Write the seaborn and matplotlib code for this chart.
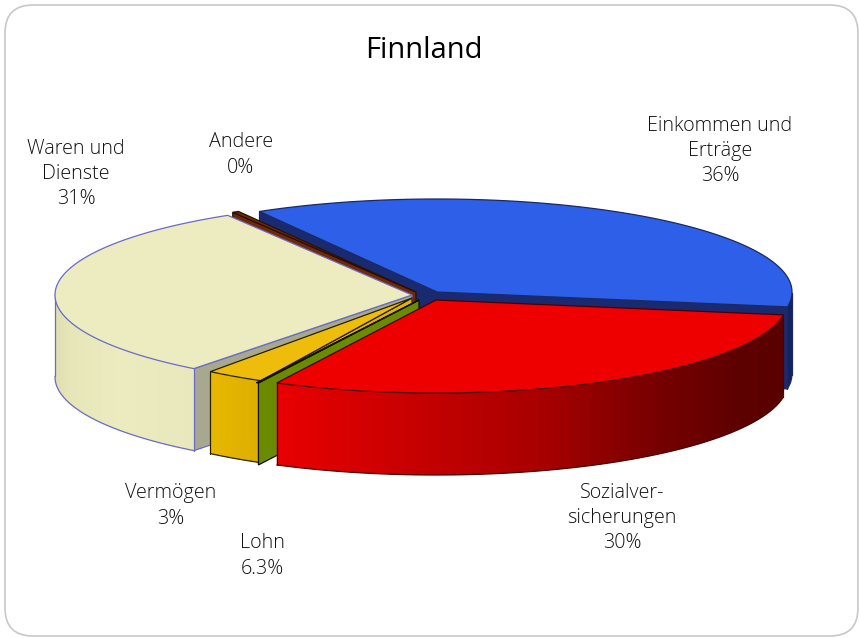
import numpy as np
import matplotlib
matplotlib.use("Agg")
import matplotlib.pyplot as plt
from matplotlib.patches import FancyBboxPatch
import seaborn as sns

# data (slices drawn clockwise from start_angle)
categories = ["Einkommen und\nErträge", "Sozialver-\nsicherungen", "Lohn", "Vermögen", "Waren und\nDienste", "Andere"]
values = [36, 30, 0.1, 2.9, 31, 0.3]
value_labels = ["36%", "30%", "6.3%", "3%", "31%", "0%"]

# look of the chart
top_colors = ["#2d5fe8", "#ee0000", "#6a8a00", "#eebd0c", "#ececc0", "#6e2a08"]
wall_colors = ["#1a2a70", "#b0b0b0", "#6a8a00", "#e2b400", "#a8a890", "#6e2a08"]
side_ramps = [["#14235f", "#14235f"],
              ["#e80000", "#c80000", "#a80000", "#760000", "#5c0000", "#5a0000"],
              ["#6a8a00", "#6a8a00"],
              ["#e8b800", "#dcae00"],
              ["#dcdcb0", "#e6e6b8", "#ecebc0", "#e8e8bc"],
              ["#6e2a08", "#6e2a08"]]
edge_colors = ["#1a2a60", "#4a0000", "#111100", "#2a2200", "#6a6ac8", "#2a1000"]
centers = [(437, 292), (436, 300), (419, 300), (412, 298), (412, 295), (416, 292)]
radius_x = [355, 352, 355, 330, 357, 355]
radius_y = 93
depth = 82
start_angle = 120
draw_order = [0, 5, 4, 3, 2, 1]
label_pos = [(720, 151), (622, 518), (262, 556), (171, 506), (76, 174), (241, 155)]

sns.set_theme(style="white")
plt.rcParams["font.family"] = ["Open Sans", "DejaVu Sans"]

fig = plt.figure(figsize=(8.59, 6.38), dpi=100)
ax = fig.add_axes([0, 0, 1, 1])
ax.set_xlim(0, 859)
ax.set_ylim(638, 0)
ax.axis("off")

ax.add_patch(FancyBboxPatch((5 + 28, 5 + 28), 853 - 56, 631 - 56, boxstyle="round,pad=28,rounding_size=28",
                            fc="white", ec="#c8c8c8", lw=1.2))

# slice limits in degrees
shares = np.array(values) / np.sum(values) * 360
ends = start_angle - np.cumsum(shares)
starts = ends + shares

z = [1]


def next_z():
    z[0] += 1
    return z[0]


def xy(i, t):
    t = np.radians(t)
    return centers[i][0] + radius_x[i] * np.cos(t), centers[i][1] - radius_y * np.sin(t)


def draw_slice(i):
    t0, t1 = starts[i], ends[i]
    cx, cy = centers[i]
    ec = edge_colors[i]
    # cut faces, only those whose normal points at the viewer show
    for t, normal in ((t0, t0 + 90), (t1, t1 - 90)):
        if np.sin(np.radians(normal)) < 0:
            x, y = xy(i, t)
            ax.fill([cx, x, x, cx], [cy, y, y + depth, cy + depth], fc=wall_colors[i], ec=ec, lw=0.9, zorder=next_z())
    # outer side, only the front half of the ellipse
    ts = np.linspace(t0, t1, 60)
    ts = ts[np.sin(np.radians(ts)) <= 0.02]
    if len(ts) > 1 and shares[i] > 2:
        x, y = xy(i, ts)
        ramp = sns.blend_palette(side_ramps[i], n_colors=len(ts))
        order = np.argsort(x)
        x, y = x[order], y[order]
        for k in range(len(x) - 1):
            j = min(k + 2, len(x) - 1)
            ax.fill([x[k], x[j], x[j], x[k]], [y[k], y[j], y[j] + depth, y[k] + depth],
                    fc=ramp[k], lw=0, zorder=next_z())
        ax.plot(x, y + depth, color=ec, lw=0.9, zorder=next_z())
        ax.plot([x[0], x[0]], [y[0], y[0] + depth], color=ec, lw=0.9, zorder=next_z())
        ax.plot([x[-1], x[-1]], [y[-1], y[-1] + depth], color=ec, lw=0.9, zorder=next_z())
    # top face
    ts = np.linspace(t0, t1, 200)
    x, y = xy(i, ts)
    ax.fill(np.r_[cx, x], np.r_[cy, y], fc=top_colors[i], ec=ec, lw=0.9, zorder=next_z())


for i in draw_order:
    draw_slice(i)

for name, val, (px, py) in zip(categories, value_labels, label_pos):
    ax.text(px, py, name + "\n" + val, ha="center", va="center", fontsize=14.2, color="#111111",
            linespacing=1.35, fontweight="light", zorder=5000)

ax.text(424, 51, "Finnland", ha="center", va="center", fontsize=21, color="black", zorder=5000)

fig.savefig("out.png", dpi=100)
